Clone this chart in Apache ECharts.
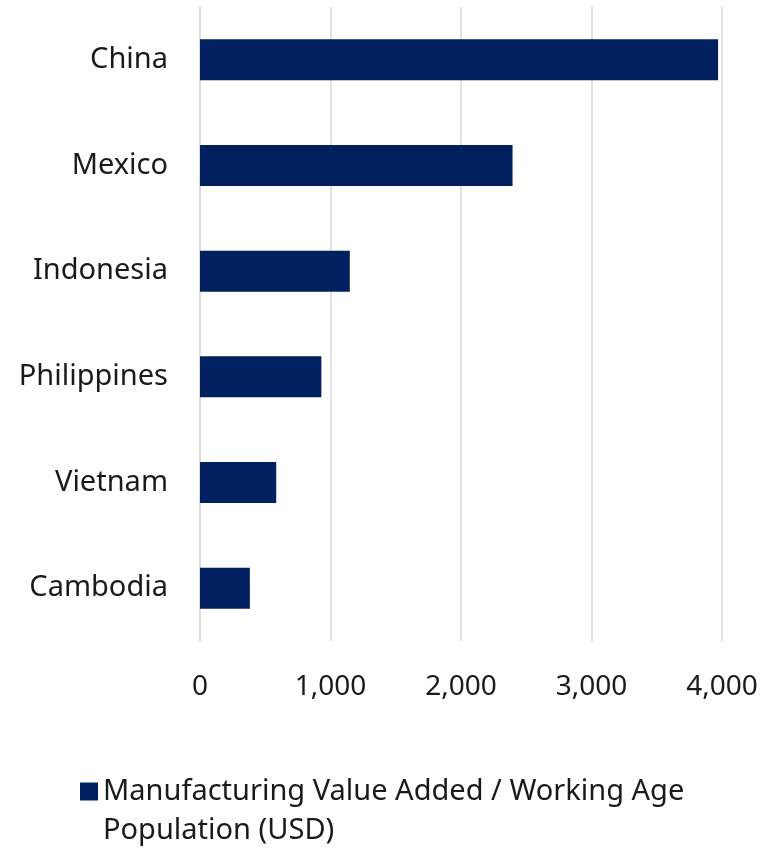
<!DOCTYPE html>
<html>
<head>
<meta charset="utf-8">
<title>Manufacturing Value Added per Working Age Population</title>
<script src="https://cdn.jsdelivr.net/npm/echarts@6/dist/echarts.min.js"></script>
<style>
  html, body { margin: 0; padding: 0; background: #ffffff; }
  #chart { width: 762px; height: 848px; }
</style>
</head>
<body>
<div id="chart"></div>
<script>
// Countries, top to bottom
const countries = ['China', 'Mexico', 'Indonesia', 'Philippines', 'Vietnam', 'Cambodia'];
// Manufacturing value added per working-age person, USD
const mvaPerWorker = [3970, 2395, 1148, 930, 584, 382];
const seriesName = 'Manufacturing Value Added / Working Age Population (USD)';
const xTicks = [0, 1000, 2000, 3000, 4000];

const FONT = '"Noto Sans", "Open Sans", sans-serif';

const chart = echarts.init(document.getElementById('chart'), null, { renderer: 'canvas' });

chart.setOption({
  animation: false,
  textStyle: { fontFamily: FONT },
  grid: { left: 200, right: 40, top: 7, bottom: 207, containLabel: false },
  xAxis: {
    type: 'value',
    min: xTicks[0],
    max: xTicks[xTicks.length - 1],
    interval: xTicks[1] - xTicks[0],
    axisLine: { show: false },
    axisTick: { show: false },
    splitLine: { show: true, lineStyle: { color: '#d9d9d9', width: 1.5 } },
    axisLabel: {
      margin: 32,
      fontSize: 28,
      color: '#1a1a1a',
      fontFamily: FONT,
      formatter: v => v.toLocaleString('en-US')
    }
  },
  yAxis: {
    type: 'category',
    data: countries,
    inverse: true,
    axisLine: { show: true, lineStyle: { color: '#d9d9d9', width: 1.5 } },
    axisTick: { show: false },
    axisLabel: { margin: 32, fontSize: 29, color: '#1a1a1a', fontFamily: FONT }
  },
  legend: {
    show: true,
    left: 80,
    top: 733,
    padding: 0,
    itemWidth: 18,
    itemHeight: 18,
    icon: 'rect',
    data: [seriesName],
    // leading blank line keeps the swatch level with the first text line
    formatter: name => '\n' + name,
    textStyle: {
      fontSize: 29,
      color: '#1a1a1a',
      fontFamily: FONT,
      lineHeight: 39,
      width: 620,
      overflow: 'break'
    }
  },
  series: [{
    name: seriesName,
    type: 'bar',
    data: mvaPerWorker,
    barWidth: 41,
    itemStyle: { color: '#002060' }
  }]
});
</script>
</body>
</html>
